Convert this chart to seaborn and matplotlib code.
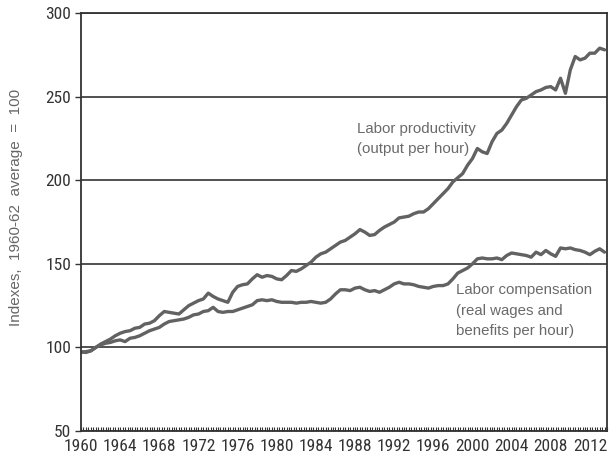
import numpy as np
import pandas as pd
import seaborn as sns
import matplotlib.pyplot as plt
from matplotlib import font_manager
from matplotlib.ticker import MultipleLocator

# semiannual readings, 1960.0 .. 2013.5
years = np.arange(1960.0, 2014.0, 0.5)

productivity = [
    97, 97.5, 98, 100, 102, 103.5, 105, 107, 108.5, 109.5,
    110, 111.5, 112, 114, 114.5, 116, 119, 121.5, 121, 120.5,
    120, 122.5, 125, 126.5, 128, 129, 132.5, 130.5, 129, 128,
    127, 133, 136.5, 137.5, 138, 141, 143.5, 142, 143, 142.5,
    141, 140.5, 143, 146, 145.5, 147, 149, 151, 154, 156,
    157, 159, 161, 163, 164, 166, 168, 170.5, 169, 167,
    167.5, 170, 172, 173.5, 175, 177.5, 178, 178.5, 180, 181,
    181, 183, 186, 189, 192, 195, 199, 201.5, 204, 209,
    213, 219, 217, 216, 223, 228, 230, 234, 239, 244,
    248, 249, 251, 253, 254, 255.5, 256, 254, 261, 252,
    266, 274, 272, 273, 276, 276, 279, 278,
]

compensation = [
    97.5, 97, 98, 100, 101.5, 102.5, 103, 104, 104.5, 103.5,
    105.5, 106, 107, 108.5, 110, 111, 112, 114, 115.5, 116,
    116.5, 117, 118, 119.5, 120, 121.5, 122, 124, 121.5, 121,
    121.5, 121.5, 122.5, 123.5, 124.5, 125.5, 128, 128.5, 128, 128.5,
    127.5, 127, 127, 127, 126.5, 127, 127, 127.5, 127, 126.5,
    127, 129, 132, 134.5, 134.5, 134, 135.5, 136, 134.5, 133.5,
    134, 133, 134.5, 136, 138, 139, 138, 138, 137.5, 136.5,
    136, 135.5, 136.5, 137, 137, 138, 141, 144.5, 146, 147.5,
    150, 153, 153.5, 153, 153, 153.5, 152.5, 155, 156.5, 156,
    155.5, 155, 154, 157, 155.5, 158, 156, 154.5, 159.5, 159,
    159.5, 158.5, 158, 157, 155.5, 157.5, 159, 157,
]

year_ticks = list(range(1960, 2013, 4))
y_ticks = [50, 100, 150, 200, 250, 300]

df = pd.DataFrame({'year': years, 'productivity': productivity,
                   'compensation': compensation})
long_df = df.melt(id_vars='year', var_name='series', value_name='index')

sns.set_theme(style="white")
plt.rcParams['font.family'] = ['Liberation Sans', 'DejaVu Sans']

# condensed face for tick labels if one is around
installed = {f.name for f in font_manager.fontManager.ttflist}
tick_font, x_size, y_size = 'Liberation Sans', 11, 11.8
for name in ['Liberation Sans Narrow', 'Roboto Condensed', 'Open Sans Condensed']:
    if name in installed:
        tick_font, x_size, y_size = name, 12.5, 12.5
        break

fig = plt.figure(figsize=(6.14, 4.66), dpi=100)
ax = fig.add_axes([0.132, 0.075, 0.8566, 0.897])

line_gray = '#626262'
sns.lineplot(data=long_df, x='year', y='index', hue='series',
             palette=[line_gray, line_gray], linewidth=2.4,
             legend=False, ax=ax)

ax.set_xlim(1960, 2013.75)
ax.set_ylim(50, 300)
ax.set_yticks(y_ticks)
ax.set_xticks(year_ticks)
ax.xaxis.set_minor_locator(MultipleLocator(0.25))
ax.grid(axis='y', color='#222222', linewidth=1.1)
ax.set_axisbelow(True)

for side in ['left', 'bottom', 'right', 'top']:
    ax.spines[side].set_color('#333333')
    ax.spines[side].set_linewidth(1.3)

ax.tick_params(axis='y', which='major', left=True, direction='out', length=4,
               width=1, color='#333333', labelsize=y_size,
               labelcolor='#333333', pad=3)
ax.tick_params(axis='x', which='both', bottom=True, direction='in', length=3,
               width=0.8, color='#333333', labelsize=x_size,
               labelcolor='#333333', pad=6)
for lbl in ax.get_xticklabels() + ax.get_yticklabels():
    lbl.set_family([tick_font, 'DejaVu Sans'])

ax.set_xlabel('')
ax.set_ylabel('')
fig.text(0.026, 0.555, 'Indexes,  1960-62  average  =  100', rotation=90,
         ha='center', va='center', fontsize=11, color='#666666')

ax.text(1988.2, 235, 'Labor productivity\n(output per hour)', fontsize=10.8,
        color='#6a6a6a', ha='left', va='top', linespacing=1.6)
ax.text(1998.3, 138.5, 'Labor compensation\n(real wages and\nbenefits per hour)',
        fontsize=10.8, color='#6a6a6a', ha='left', va='top', linespacing=1.6)

fig.savefig('out.png', dpi=100)
